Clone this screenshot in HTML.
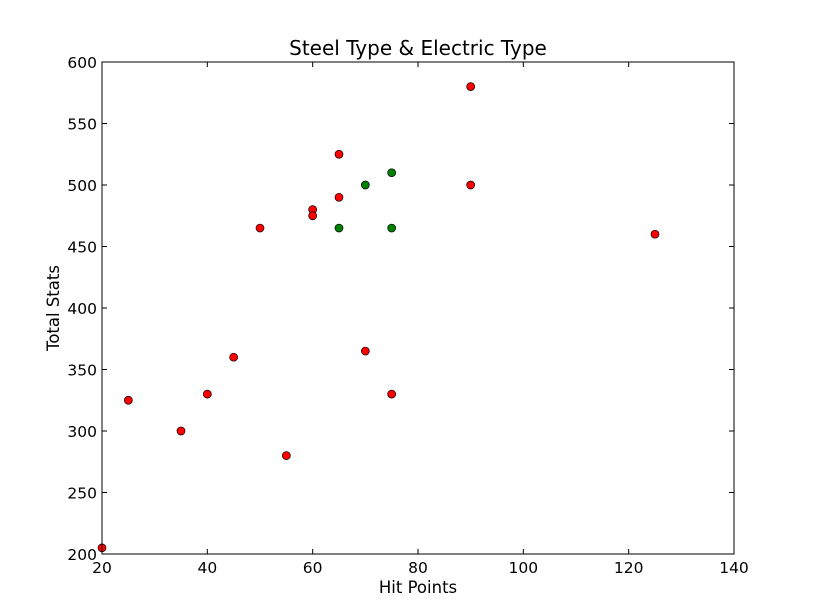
<!DOCTYPE html>
<html><head><meta charset="utf-8"><style>
html,body{margin:0;padding:0;background:#fff;}
svg{display:block;font-family:"DejaVu Sans","Liberation Sans",sans-serif;}
</style></head><body>
<svg id="chart" width="815" height="615" viewBox="0 0 815 615" xmlns="http://www.w3.org/2000/svg">
<rect width="815" height="615" fill="#fff"/>
<text x="418" y="55" text-anchor="middle" font-size="20">Steel Type &amp; Electric Type</text>
<text x="418" y="593" text-anchor="middle" font-size="16.5">Hit Points</text>
<text transform="translate(59,308) rotate(-90)" text-anchor="middle" font-size="16.5">Total Stats</text>
<g id="ticks"></g>
<g id="marks"></g>
<rect x="102" y="62" width="632" height="492" fill="none" stroke="#000" stroke-width="1"/>
</svg>
<script>
const xTicks = [20,40,60,80,100,120,140];
const yTicks = [200,250,300,350,400,450,500,550,600];
const redHP = [20,25,35,40,45,50,55,60,60,65,65,70,75,90,90,125];
const redTotal = [205,325,300,330,360,465,280,480,475,525,490,365,330,580,500,460];
const greenHP = [65,70,75,75];
const greenTotal = [465,500,510,465];

const X0=102,X1=734,Y0=554,Y1=62;
const sx=v=>X0+(v-20)/(140-20)*(X1-X0);
const sy=v=>Y0-(v-200)/(600-200)*(Y0-Y1);
const NS="http://www.w3.org/2000/svg";
const tg=document.getElementById('ticks'), mg=document.getElementById('marks');
function mk(tag,attrs,parent){const e=document.createElementNS(NS,tag);for(const k in attrs)e.setAttribute(k,attrs[k]);parent.appendChild(e);return e;}
xTicks.forEach(t=>{
  const x=sx(t);
  const l1=mk('line',{x1:x,x2:x,y1:Y0,y2:Y0-5,stroke:'#000'},tg);
  
  
  const l2=mk('line',{x1:x,x2:x,y1:Y1,y2:Y1+5,stroke:'#000'},tg);
  
  
  const tx=mk('text',{x:x,y:Y0+19,'text-anchor':'middle','font-size':15.5},tg);
  tx.textContent=t;
  
  
});
yTicks.forEach(t=>{
  const y=sy(t);
  const l1=mk('line',{x1:X0,x2:X0+5,y1:y,y2:y,stroke:'#000'},tg);
  
  
  const l2=mk('line',{x1:X1,x2:X1-5,y1:y,y2:y,stroke:'#000'},tg);
  
  
  const tx=mk('text',{x:X0-5,y:y+6,'text-anchor':'end','font-size':15.5},tg);
  tx.textContent=t;
  
  
});
redHP.forEach((v,i)=>{
  const c=mk('circle',{cx:sx(v),cy:sy(redTotal[i]),r:4,fill:'#ff0000',stroke:'#000','stroke-width':0.7},mg);
  
  
});
greenHP.forEach((v,i)=>{
  const c=mk('circle',{cx:sx(v),cy:sy(greenTotal[i]),r:4,fill:'#008000',stroke:'#000','stroke-width':0.7},mg);
  
  
});
</script>
</body></html>
